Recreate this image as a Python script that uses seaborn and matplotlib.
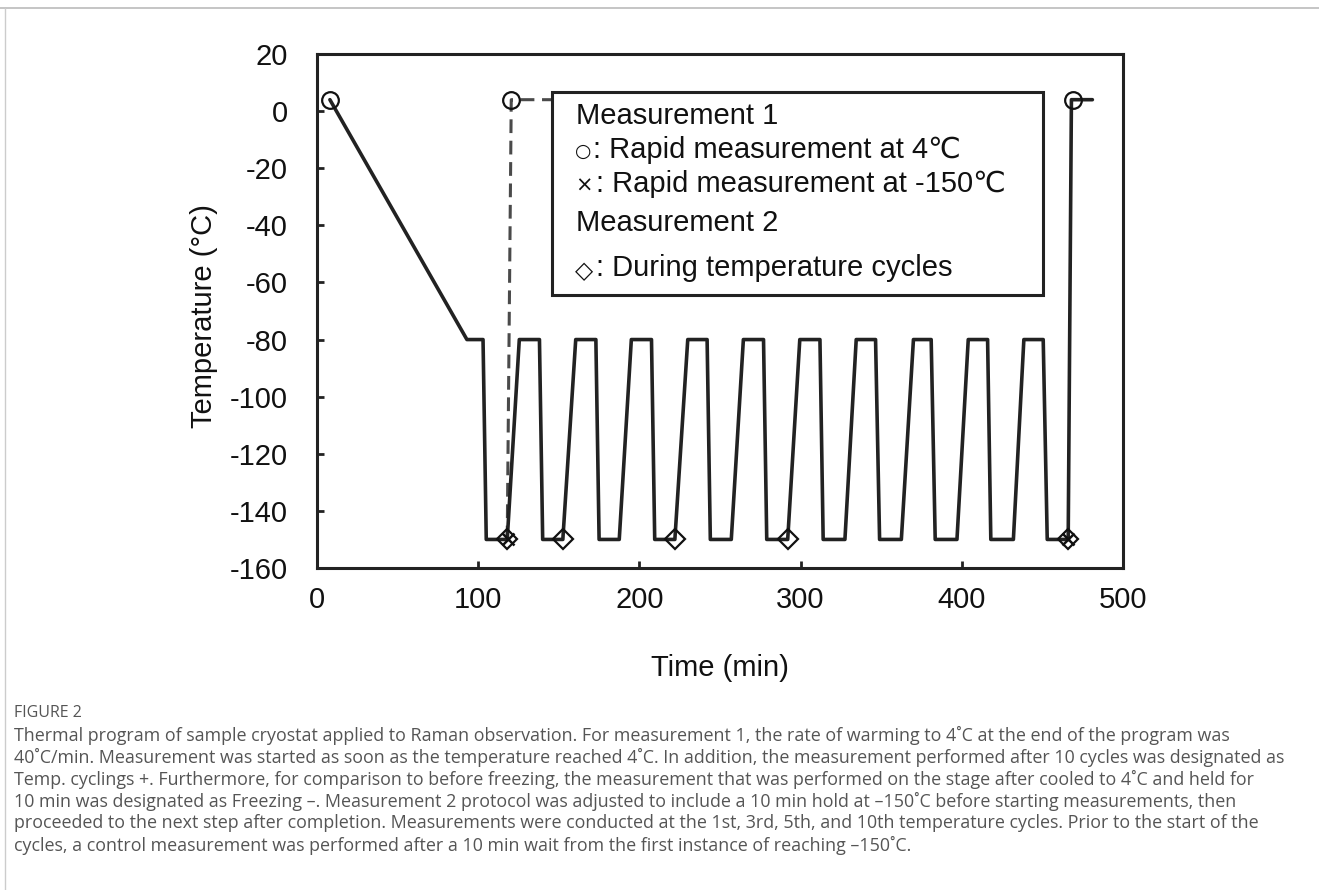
import numpy as np
import pandas as pd
import seaborn as sns
import matplotlib.pyplot as plt
from matplotlib.patches import Rectangle
from matplotlib.lines import Line2D

sns.set_style('ticks')
plt.rcParams['font.family'] = ['Liberation Sans', 'DejaVu Sans']
plt.rcParams['axes.unicode_minus'] = False

# thermal program (time in min, temperature in C)
time_min = [8, 93, 103, 105, 118,
            125.5, 138, 140, 152.5,
            160.5, 173, 175, 187.5,
            195, 207.5, 209.5, 222,
            230, 242, 244, 257,
            264.5, 277, 279, 292,
            299.5, 312, 314, 327.5,
            334.5, 346.5, 349, 362.5,
            370, 381, 383.5, 397,
            404, 416, 418, 432,
            438.5, 450.5, 453, 466,
            468, 481]
temp_c = [4, -80, -80, -150, -150,
          -80, -80, -150, -150,
          -80, -80, -150, -150,
          -80, -80, -150, -150,
          -80, -80, -150, -150,
          -80, -80, -150, -150,
          -80, -80, -150, -150,
          -80, -80, -150, -150,
          -80, -80, -150, -150,
          -80, -80, -150, -150,
          -80, -80, -150, -150,
          4, 4]

# measurement 1 rapid warm branch (dashed)
dash_time = [118, 120.5, 150]
dash_temp = [-150, 4, 4]

# measurement points
circ_time = [8, 120.5, 469]
circ_temp = [4, 4, 4]
cross_time = [118.5, 466]
cross_temp = [-150, -150]
diam_time = [118, 152.5, 222, 292, 466]
diam_temp = [-150, -150, -150, -150, -150]

legend_lines = ['Measurement 1',
                ': Rapid measurement at 4\u2103',
                ': Rapid measurement at -150\u2103',
                'Measurement 2',
                ': During temperature cycles']
legend_syms = ['', '\u25cb', '\u00d7', '', '\u25c7']

caption_head = 'FIGURE 2'
caption = [
    'Thermal program of sample cryostat applied to Raman observation. For measurement 1, the rate of warming to 4\u02daC at the end of the program was',
    '40\u02daC/min. Measurement was started as soon as the temperature reached 4\u02daC. In addition, the measurement performed after 10 cycles was designated as',
    'Temp. cyclings +. Furthermore, for comparison to before freezing, the measurement that was performed on the stage after cooled to 4\u02daC and held for',
    '10 min was designated as Freezing \u2013. Measurement 2 protocol was adjusted to include a 10 min hold at \u2013150\u02daC before starting measurements, then',
    'proceeded to the next step after completion. Measurements were conducted at the 1st, 3rd, 5th, and 10th temperature cycles. Prior to the start of the',
    'cycles, a control measurement was performed after a 10 min wait from the first instance of reaching \u2013150\u02daC.',
]

W, H = 1319, 890
fig = plt.figure(figsize=(W / 100, H / 100), dpi=100)
ax = fig.add_axes([317 / W, 1 - 568 / H, (1123 - 317) / W, (568 - 54) / H])

ink = '#222222'
sns.lineplot(x=dash_time, y=dash_temp, sort=False, estimator=None, color='#4a4a4a',
             lw=2.2, ls='--', ax=ax, zorder=2)
ax.lines[-1].set_dashes([4.5, 2.5])
sns.lineplot(x=time_min, y=temp_c, sort=False, estimator=None, color=ink,
             lw=2.6, ax=ax, zorder=3)

ax.plot(circ_time, circ_temp, ls='none', marker='o', ms=12, mfc='none', mec='#111111', mew=1.6, zorder=5)
ax.plot(cross_time, cross_temp, ls='none', marker='x', ms=8, mec='#111111', mew=1.8, zorder=5)
ax.plot(diam_time, diam_temp, ls='none', marker='D', ms=10, mfc='none', mec='#111111', mew=1.6, zorder=5)

# legend box drawn as an annotation box
ax.add_patch(Rectangle((145.8, -64.4), 304.6, 71.05, fc='white', ec=ink, lw=2.2, zorder=4))

ax.set_xlim(0, 500)
ax.set_ylim(-160, 20)
ax.set_xticks(np.arange(0, 501, 100))
ax.set_yticks(np.arange(-160, 21, 20))
for s in ax.spines.values():
    s.set_linewidth(2.2)
    s.set_color(ink)
ax.tick_params(direction='in', length=5, width=2, colors=ink, labelcolor='#111111', labelsize=21)
ax.tick_params(axis='y', pad=21)
ax.tick_params(axis='x', pad=13)

ax.set_xlabel('Time (min)', fontsize=21, color='#111111', va='center')
ax.xaxis.set_label_coords(0.5, -0.195)
ax.set_ylabel('Temperature (\u00b0C)', fontsize=21, color='#111111', va='center', ha='center')
ax.yaxis.set_label_coords(-0.1405, 0.49)

# legend text
base_y = [124, 158, 192, 231, 276]
sym_y = [0, 157, 192, 0, 278]
sym_size = [0, 13.5, 15, 0, 17]
text_x = [576, 593, 596, 576, 596]
for sym, txt, by, sy, ss, tx in zip(legend_syms, legend_lines, base_y, sym_y, sym_size, text_x):
    if sym:
        fig.text(575 / W, 1 - sy / H, sym, fontsize=ss, family='DejaVu Sans',
                 va='baseline', ha='left', color='#111111')
    fig.text(tx / W, 1 - by / H, txt, fontsize=21, va='baseline', ha='left', color='#111111')

# page frame lines
fig.add_artist(Line2D([0, 1], [1 - 8 / H, 1 - 8 / H], color='#bbbbbb', lw=1.2))
fig.add_artist(Line2D([5 / W, 5 / W], [0, 1 - 8 / H], color='#cccccc', lw=1.0))

# caption
cap_font = ['Open Sans', 'DejaVu Sans']
fig.text(14 / W, 1 - 713 / H, caption_head, fontsize=11.5, family=cap_font,
         color='#555555', va='center', ha='left')
for i, line in enumerate(caption):
    fig.text(14 / W, 1 - (735 + 22 * i) / H, line, fontsize=12.9, family=cap_font,
             color='#555555', va='center', ha='left')

fig.savefig('out.png', dpi=100)
